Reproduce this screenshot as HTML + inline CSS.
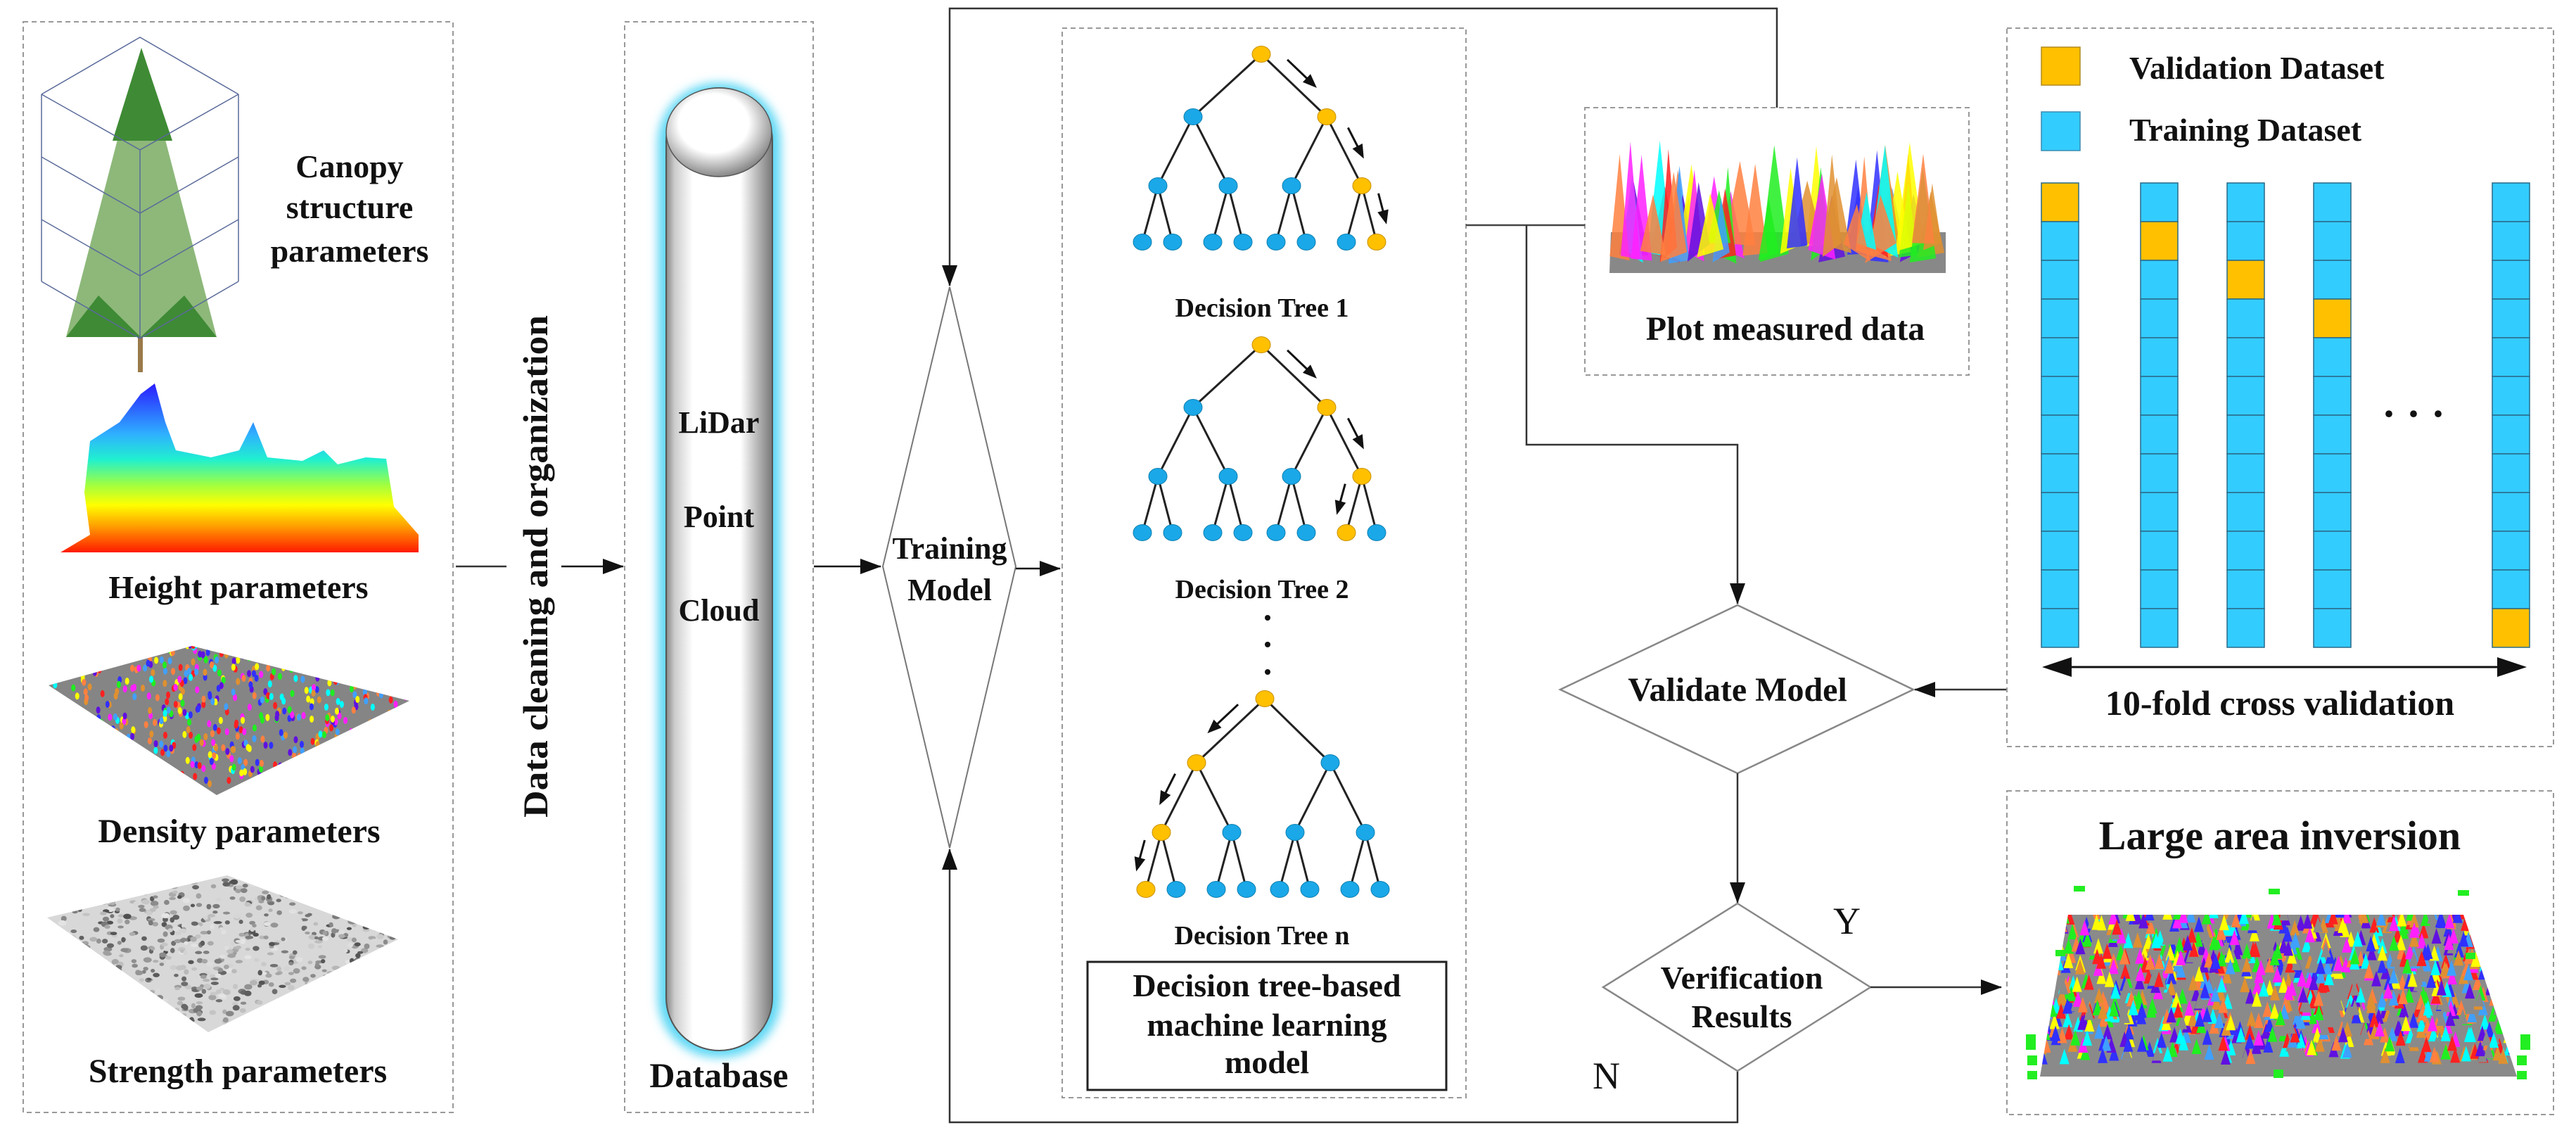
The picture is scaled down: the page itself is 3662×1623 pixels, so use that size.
<!DOCTYPE html>
<html><head><meta charset="utf-8">
<style>
html,body{margin:0;padding:0;background:#fff;}
svg{display:block;}
text{font-family:"Liberation Serif",serif;fill:#111;}
.b{font-weight:bold;}
</style></head>
<body>
<svg id="s" xmlns="http://www.w3.org/2000/svg" width="3662" height="1623" viewBox="0 0 3662 1623">
<defs>
  <marker id="ah" markerWidth="30" markerHeight="22" refX="29" refY="11" orient="auto" markerUnits="userSpaceOnUse" viewBox="0 0 30 22">
    <path d="M0,0 L30,11 L0,22 z" fill="#111"/>
  </marker>
  <linearGradient id="cyl" x1="0" x2="1" y1="0" y2="0">
    <stop offset="0" stop-color="#888"/><stop offset="0.08" stop-color="#ccc"/><stop offset="0.25" stop-color="#fff"/>
    <stop offset="0.7" stop-color="#fff"/><stop offset="0.85" stop-color="#bbb"/><stop offset="1" stop-color="#777"/>
  </linearGradient>
  <radialGradient id="cap" cx="0.45" cy="0.4" r="0.6">
    <stop offset="0.55" stop-color="#fff"/><stop offset="1" stop-color="#888"/>
  </radialGradient>
  <linearGradient id="hgt" x1="0" x2="0" y1="0" y2="1">
    <stop offset="0" stop-color="#2a1cff"/><stop offset="0.3" stop-color="#2fb0ff"/><stop offset="0.45" stop-color="#20f0d0"/>
    <stop offset="0.6" stop-color="#a0ff40"/><stop offset="0.72" stop-color="#ffff00"/><stop offset="0.85" stop-color="#ff9a00"/><stop offset="1" stop-color="#ff1a00"/>
  </linearGradient>
  <filter id="glow" x="-30%" y="-5%" width="160%" height="110%"><feGaussianBlur stdDeviation="7"/></filter>
  <clipPath id="cpDen"><polygon points="69,974 273,918 582,996 308,1130"/></clipPath>
  <clipPath id="cpStr"><polygon points="67,1304 323,1244 566,1335 296,1467"/></clipPath>
  <clipPath id="cpLa"><polygon points="2940,1300 3502,1300 3578,1530 2900,1530"/></clipPath>
</defs>

<g fill="none" stroke="#999" stroke-width="2" stroke-dasharray="7,5">
  <rect x="33" y="31" width="611" height="1550"/>
  <rect x="888" y="31" width="268" height="1550"/>
  <rect x="1510" y="40" width="574" height="1520"/>
  <rect x="2253" y="153" width="546" height="380"/>
  <rect x="2853" y="40" width="777" height="1021"/>
  <rect x="2853" y="1124" width="777" height="460"/>
</g>

<g id="treeimg">
  <polygon points="201,68 94,479 308,479" fill="#8db87a"/>
  <polygon points="201,68 160,200 245,200" fill="#3f8a35"/>
  <polygon points="94,479 140,420 200,479" fill="#3f8a35"/>
  <polygon points="308,479 262,420 200,479" fill="#3f8a35"/>
  <rect x="196" y="479" width="7" height="50" fill="#9a7a4a"/>
  <g stroke="#5a6a9a" stroke-width="1.5" fill="none">
    <polyline points="59,134 199,53 339,134"/>
    <line x1="59" y1="134" x2="59" y2="400"/><line x1="339" y1="134" x2="339" y2="400"/><line x1="199" y1="213" x2="199" y2="481"/>
    <polyline points="59,134 199,213 339,134"/>
    <polyline points="59,223 199,303 339,223"/>
    <polyline points="59,312 199,392 339,312"/>
    <polyline points="59,400 199,481 339,400"/>
  </g>
</g>
<text class="b" font-size="46" text-anchor="middle" x="497" y="252">Canopy</text>
<text class="b" font-size="46" text-anchor="middle" x="497" y="310">structure</text>
<text class="b" font-size="46" text-anchor="middle" x="497" y="372">parameters</text>

<polygon fill="url(#hgt)" points="86,785 128,760 120,700 128,627 170,600 200,560 220,545 235,600 250,640 300,650 340,640 360,600 380,650 430,655 460,640 480,660 520,650 549,652 560,720 595,760 595,785"/>
<text class="b" font-size="46" text-anchor="middle" x="339" y="850">Height parameters</text>

<polygon points="69,974 273,918 582,996 308,1130" fill="#858585"/>
<g id="den" clip-path="url(#cpDen)"></g>
<text class="b" font-size="48" text-anchor="middle" x="340" y="1197">Density parameters</text>

<polygon points="67,1304 323,1244 566,1335 296,1467" fill="#d8d8d8"/>
<g id="str" clip-path="url(#cpStr)"></g>
<text class="b" font-size="48" text-anchor="middle" x="338" y="1538">Strength parameters</text>

<line x1="648" y1="805" x2="720" y2="805" stroke="#333" stroke-width="2.5"/>
<line x1="798" y1="805" x2="886" y2="805" stroke="#111" stroke-width="2.5" marker-end="url(#ah)"/>
<text class="b" font-size="50" text-anchor="middle" transform="translate(778,805) rotate(-90)" textLength="714" lengthAdjust="spacingAndGlyphs">Data cleaning and organization</text>

<rect x="935" y="118" width="175" height="1385" rx="85" fill="#5fd8f5" filter="url(#glow)"/>
<rect x="947" y="125" width="151" height="1368" rx="75" fill="url(#cyl)" stroke="#555" stroke-width="2"/>
<ellipse cx="1022" cy="188" rx="75" ry="63" fill="url(#cap)" stroke="#555" stroke-width="1.5"/>
<text class="b" font-size="44" text-anchor="middle" x="1022" y="615">LiDar</text>
<text class="b" font-size="44" text-anchor="middle" x="1022" y="749">Point</text>
<text class="b" font-size="44" text-anchor="middle" x="1022" y="882">Cloud</text>
<text class="b" font-size="50" text-anchor="middle" x="1022" y="1545">Database</text>

<line x1="1157" y1="805" x2="1252" y2="805" stroke="#111" stroke-width="2.5" marker-end="url(#ah)"/>

<polygon points="1350,408 1444,805 1350,1205 1255,805" fill="none" stroke="#777" stroke-width="2"/>
<text class="b" font-size="44" text-anchor="middle" x="1350" y="794">Training</text>
<text class="b" font-size="44" text-anchor="middle" x="1350" y="853">Model</text>
<line x1="1444" y1="808" x2="1507" y2="808" stroke="#111" stroke-width="2.5" marker-end="url(#ah)"/>

<polyline points="2526,153 2526,12 1350,12 1350,406" fill="none" stroke="#333" stroke-width="2.5" marker-end="url(#ah)"/>
<polyline points="2470,1522 2470,1595 1350,1595 1350,1207" fill="none" stroke="#333" stroke-width="2.5" marker-end="url(#ah)"/>

<g id="trees"></g>
<text class="b" font-size="38" text-anchor="middle" x="1794" y="450">Decision Tree 1</text>
<text class="b" font-size="38" text-anchor="middle" x="1794" y="850">Decision Tree 2</text>
<text class="b" font-size="38" text-anchor="middle" x="1794" y="1342">Decision Tree n</text>
<circle cx="1802" cy="878" r="4" fill="#111"/><circle cx="1802" cy="916" r="4" fill="#111"/><circle cx="1802" cy="955" r="4" fill="#111"/>
<rect x="1546" y="1367" width="510" height="182" fill="none" stroke="#222" stroke-width="3"/>
<text class="b" font-size="46" text-anchor="middle" x="1801" y="1416">Decision tree-based</text>
<text class="b" font-size="46" text-anchor="middle" x="1801" y="1472">machine learning</text>
<text class="b" font-size="46" text-anchor="middle" x="1801" y="1525">model</text>

<line x1="2084" y1="320" x2="2253" y2="320" stroke="#444" stroke-width="2.5"/>
<polyline points="2170,320 2170,632 2470,632 2470,858" fill="none" stroke="#333" stroke-width="2.5" marker-end="url(#ah)"/>

<polygon points="2288,388 2290,330 2766,330 2766,388" fill="#888"/>
<g id="plot"></g>
<text class="b" font-size="48" text-anchor="middle" x="2538" y="483">Plot measured data</text>

<polygon points="2470,860 2720,980 2470,1099 2218,980" fill="none" stroke="#888" stroke-width="2.5"/>
<text class="b" font-size="48" text-anchor="middle" x="2470" y="996">Validate Model</text>
<line x1="2852" y1="980" x2="2722" y2="980" stroke="#333" stroke-width="2.5" marker-end="url(#ah)"/>
<line x1="2470" y1="1099" x2="2470" y2="1283" stroke="#333" stroke-width="2.5" marker-end="url(#ah)"/>

<polygon points="2470,1284 2659,1403 2470,1522 2279,1403" fill="none" stroke="#888" stroke-width="2.5"/>
<text class="b" font-size="46" text-anchor="middle" x="2476" y="1405">Verification</text>
<text class="b" font-size="46" text-anchor="middle" x="2476" y="1460">Results</text>
<text font-size="54" x="2606" y="1327">Y</text>
<text font-size="54" x="2264" y="1547">N</text>
<line x1="2659" y1="1403" x2="2845" y2="1403" stroke="#333" stroke-width="2.5" marker-end="url(#ah)"/>

<rect x="2902" y="67" width="55" height="54" fill="#ffc000" stroke="#b08a20" stroke-width="1.5"/>
<rect x="2902" y="159" width="55" height="55" fill="#33ccff" stroke="#3a8cb0" stroke-width="1.5"/>
<text class="b" font-size="46" x="3027" y="112">Validation Dataset</text>
<text class="b" font-size="46" x="3027" y="200">Training Dataset</text>
<g id="cols"></g>
<text class="b" font-size="60" text-anchor="middle" x="3431" y="608">· · ·</text>
<line x1="2940" y1="948" x2="3555" y2="948" stroke="#111" stroke-width="3"/>
<path d="M2903,948 L2945,934 L2945,962 z" fill="#111"/>
<path d="M3592,948 L3550,934 L3550,962 z" fill="#111"/>
<text class="b" font-size="50" text-anchor="middle" x="3241" y="1016">10-fold cross validation</text>

<text class="b" font-size="58" text-anchor="middle" x="3241" y="1207">Large area inversion</text>
<polygon points="2940,1300 3502,1300 3578,1530 2900,1530" fill="#8a8a8a"/>
<g id="la" clip-path="url(#cpLa)"></g>
<g fill="#22ee22">
  <rect x="2948" y="1259" width="16" height="8"/><rect x="3225" y="1263" width="16" height="8"/><rect x="3494" y="1265" width="16" height="8"/>
  <rect x="2922" y="1350" width="14" height="9"/><rect x="3505" y="1354" width="14" height="9"/>
  <rect x="2880" y="1470" width="14" height="22"/><rect x="2882" y="1500" width="14" height="14"/><rect x="2882" y="1522" width="14" height="12"/>
  <rect x="3583" y="1470" width="14" height="22"/><rect x="3578" y="1500" width="14" height="14"/><rect x="3578" y="1522" width="14" height="12"/>
  <rect x="3232" y="1520" width="14" height="12"/>
</g>
</svg>
<script>
(function(){
var NS="http://www.w3.org/2000/svg";
function el(p,t,a){var e=document.createElementNS(NS,t);for(var k in a)e.setAttribute(k,a[k]);p.appendChild(e);return e;}
var seed=12345;function rnd(){seed=(seed*16807)%2147483647;return (seed-1)/2147483646;}
var cols=['#ff2020','#20ee20','#3030ff','#ffff00','#ff20ff','#00ffff','#e09030','#6010e0','#40a0ff','#ff8040'];
var T=document.getElementById('trees');
var BLUE='#1aa8e8',ORG='#ffc000';
function tree(R,ys,path){
  var l1=[R-97,R+93],l2=[l1[0]-50,l1[0]+50,l1[1]-50,l1[1]+50],lv=[];
  l2.forEach(function(x){lv.push(x-22,x+21);});
  var g=el(T,'g',{});
  var edges=[];
  l1.forEach(function(x,i){edges.push([R,ys[0],x,ys[1]]);});
  l2.forEach(function(x,i){edges.push([l1[i>>1],ys[1],x,ys[2]]);});
  lv.forEach(function(x,i){edges.push([l2[i>>1],ys[2],x,ys[3]]);});
  edges.forEach(function(e){el(g,'line',{x1:e[0],y1:e[1],x2:e[2],y2:e[3],stroke:'#222','stroke-width':3});});
  var a=path[0],b=path[1],c=path[2];
  var P=[[R,ys[0]],[l1[a],ys[1]],[l2[a*2+b],ys[2]],[lv[(a*2+b)*2+c],ys[3]]];
  for(var i=0;i<3;i++){
    var x1=P[i][0],y1=P[i][1],x2=P[i+1][0],y2=P[i+1][1];
    var dx=x2-x1,dy=y2-y1,L=Math.sqrt(dx*dx+dy*dy),ux=dx/L,uy=dy/L;
    var nx=-uy,ny=ux; if(nx<0){nx=-nx;ny=-ny;} if(dx<0){nx=-nx;ny=-ny;}
    var off=20,sx=x1+dx*0.25+nx*off,sy=y1+dy*0.25+ny*off,ex=x1+dx*0.7+nx*off,ey=y1+dy*0.7+ny*off;
    if(i==2){sx=x1+dx*0.2+nx*off;sy=y1+dy*0.2+ny*off;ex=x1+dx*0.75+nx*off;ey=y1+dy*0.75+ny*off;}
    el(g,'line',{x1:sx,y1:sy,x2:ex-ux*10,y2:ey-uy*10,stroke:'#111','stroke-width':3});
    var hx=ex,hy=ey,bx=ex-ux*20,by=ey-uy*20;
    el(g,'path',{d:'M'+hx+','+hy+' L'+(bx+nx*8)+','+(by+ny*8)+' L'+(bx-nx*8)+','+(by-ny*8)+' z',fill:'#111'});
  }
  function node(x,y,o){el(g,'ellipse',{cx:x,cy:y,rx:13,ry:11.5,fill:o?ORG:BLUE,stroke:o?'#c89000':'#1080b0','stroke-width':1});}
  function on(x,y){return P.some(function(p){return p[0]==x&&p[1]==y;});}
  node(R,ys[0],true);
  l1.forEach(function(x){node(x,ys[1],on(x,ys[1]));});
  l2.forEach(function(x){node(x,ys[2],on(x,ys[2]));});
  lv.forEach(function(x){node(x,ys[3],on(x,ys[3]));});
}
tree(1793,[77,166,264,344],[1,1,1]);
tree(1793,[490,579,677,757],[1,1,0]);
tree(1798,[993,1084,1183,1264],[0,0,0]);
var C=document.getElementById('cols');
var cx=[2902,3043,3166,3289,3543],orr=[0,1,2,3,11];
cx.forEach(function(x,j){for(var i=0;i<12;i++){el(C,'rect',{x:x,y:260+i*55,width:53,height:55,fill:i==orr[j]?'#ffc000':'#33ccff',stroke:'#2a6a88','stroke-width':1.5});}});
var D=document.getElementById('den');
for(var i=0;i<700;i++){var x=69+rnd()*515,y=918+rnd()*212;el(D,'ellipse',{cx:x,cy:y-4,rx:3,ry:5,fill:cols[Math.floor(rnd()*cols.length)]});}
var S=document.getElementById('str');
for(var i=0;i<900;i++){var x=67+rnd()*500,y=1244+rnd()*223,v=80+Math.floor(rnd()*150);el(S,'ellipse',{cx:x,cy:y,rx:3+rnd()*3,ry:2+rnd()*2,fill:'rgb('+v+','+v+','+v+')'});}
var Pg=document.getElementById('plot');
for(var i=0;i<60;i++){var x=2295+rnd()*460,top=200+rnd()*90,w=24+rnd()*22,c=cols[Math.floor(rnd()*cols.length)];
 el(Pg,'polygon',{points:x+','+top+' '+(x+w/2)+','+(345+rnd()*30)+' '+(x-w/2)+','+(345+rnd()*30),fill:c,opacity:0.85});}
var La=document.getElementById('la');
for(var i=0;i<1100;i++){var x=2900+rnd()*680,y=1295+rnd()*210,c=cols[Math.floor(rnd()*cols.length)];
 if(rnd()<0.2)c='#8a8a8a'; el(La,'polygon',{points:x+','+(y-14)+' '+(x+7)+','+(y+8)+' '+(x-7)+','+(y+8),fill:c});}
})();
</script>
</body></html>
